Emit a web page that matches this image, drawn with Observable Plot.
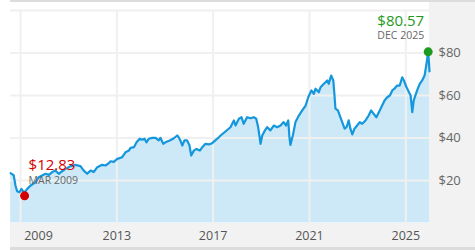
<!DOCTYPE html>
<html>
<head>
<meta charset="utf-8">
<script src="https://cdn.jsdelivr.net/npm/d3@7"></script>
<script src="https://cdn.jsdelivr.net/npm/@observablehq/plot@0.6"></script>
<style>
  html, body { margin: 0; padding: 0; background: #fff; }
  #wrap { position: relative; width: 475px; height: 250px; overflow: hidden; font-family: "Open Sans", sans-serif; }
  .bg { position: absolute; }
  #wrap svg { position: absolute; left: 0; top: 0; background: transparent; }
</style>
</head>
<body>
<div id="wrap">
  <div class="bg" style="left:10px;top:0;width:465px;height:2px;background:#dcdcdc"></div>
  <div class="bg" style="left:429px;top:2px;width:46px;height:221px;background:#f2f2f2"></div>
  <div class="bg" style="left:10px;top:222.6px;width:465px;height:25px;background:#f2f2f2"></div>
  <div class="bg" style="left:10px;top:247px;width:465px;height:3px;background:#dcdcdc"></div>
</div>
<script>
// Decimal-year positions and prices
const years = [
  2008.59, 2008.72, 2008.79, 2008.86, 2008.96, 2009.04, 2009.14, 2009.28, 2009.42, 2009.62,
  2009.76, 2009.90, 2010.04, 2010.18, 2010.32, 2010.45, 2010.59, 2010.73, 2010.87, 2011.08,
  2011.28, 2011.49, 2011.63, 2011.77, 2011.91, 2012.04, 2012.19, 2012.39, 2012.53, 2012.67,
  2012.74, 2012.87, 2013.02, 2013.22, 2013.36, 2013.50, 2013.57, 2013.71, 2013.82, 2013.95,
  2014.05, 2014.15, 2014.23, 2014.33, 2014.47, 2014.61, 2014.74, 2014.81, 2014.93, 2015.02,
  2015.20, 2015.37, 2015.51, 2015.57, 2015.64, 2015.72, 2015.81, 2015.92, 2016.02, 2016.09,
  2016.20, 2016.31, 2016.45, 2016.55, 2016.68, 2016.82, 2016.96, 2017.10, 2017.24, 2017.31,
  2017.51, 2017.72, 2017.86, 2017.93, 2018.07, 2018.18, 2018.27, 2018.41, 2018.55, 2018.69,
  2018.79, 2018.87, 2018.97, 2019.04, 2019.15, 2019.25, 2019.38, 2019.52, 2019.66, 2019.80,
  2019.93, 2020.03, 2020.12, 2020.17, 2020.21, 2020.31, 2020.42, 2020.56, 2020.70, 2020.84,
  2020.95, 2021.08, 2021.18, 2021.25, 2021.39, 2021.46, 2021.53, 2021.60, 2021.74, 2021.80,
  2021.90, 2021.99, 2022.04, 2022.08, 2022.18, 2022.26, 2022.36, 2022.46, 2022.54, 2022.63,
  2022.70, 2022.78, 2022.87, 2022.98, 2023.09, 2023.19, 2023.33, 2023.46, 2023.56, 2023.67,
  2023.78, 2023.92, 2024.02, 2024.12, 2024.23, 2024.34, 2024.44, 2024.53, 2024.64, 2024.75,
  2024.85, 2024.92, 2025.03, 2025.13, 2025.20, 2025.27, 2025.33, 2025.47, 2025.58, 2025.68,
  2025.78, 2025.86, 2025.93, 2025.96, 2025.985
];
const prices = [
  23.5, 22.4, 17.7, 15.0, 14.5, 16.1, 14.2, 16.1, 17.7, 19.2,
  21.6, 22.4, 23.2, 22.7, 24.0, 24.7, 23.2, 24.4, 25.5, 26.8,
  27.4, 26.8, 24.7, 23.2, 24.7, 24.0, 26.3, 27.4, 27.1, 28.2,
  29.1, 28.8, 30.2, 31.0, 33.3, 34.1, 35.4, 35.7, 38.0, 39.7,
  39.2, 39.7, 38.0, 39.7, 40.1, 40.1, 38.9, 40.1, 37.3, 38.0,
  38.9, 39.9, 41.2, 40.4, 38.9, 36.5, 38.9, 38.9, 36.5, 31.8,
  34.1, 34.9, 34.1, 35.7, 37.3, 37.0, 37.6, 39.0, 40.4, 41.2,
  43.1, 45.1, 48.3, 45.9, 49.1, 49.8, 46.7, 49.8, 49.3, 49.8,
  49.1, 45.1, 37.3, 41.2, 43.6, 45.1, 43.6, 45.9, 45.1, 45.9,
  47.5, 45.9, 48.3, 40.4, 36.8, 41.2, 47.5, 50.6, 53.0, 55.3,
  59.2, 62.4, 60.8, 63.2, 61.6, 63.9, 64.7, 65.5, 67.1, 65.5,
  69.4, 67.1, 60.0, 53.8, 53.0, 50.6, 47.5, 44.4, 45.1, 48.3,
  44.4, 41.7, 44.4, 45.9, 47.5, 46.7, 48.3, 50.6, 53.0, 51.4,
  49.8, 53.0, 55.3, 57.7, 59.2, 60.0, 62.4, 63.2, 64.7, 64.7,
  68.6, 67.1, 63.9, 61.6, 60.0, 52.2, 57.7, 62.4, 65.5, 67.1,
  69.4, 74.9, 80.57, 75.7, 71.4
];
const xDomain = [2008.585, 2025.985];
const tickYears = [2009, 2013, 2017, 2021, 2025];
const yTickValues = [20, 40, 60, 80];
const yGridValues = [20, 40, 60, 80, 100];
const lowPoint = {year: 2009.17, price: 12.83, label: "$12.83", date: "MAR 2009"};
const highPoint = {year: 2025.93, price: 80.57, label: "$80.57", date: "DEC 2025"};

function toDate(y) {
  const yr = Math.floor(y);
  const s = Date.UTC(yr, 0, 1), e = Date.UTC(yr + 1, 0, 1);
  return new Date(s + (y - yr) * (e - s));
}
const data = years.map((y, i) => ({date: toDate(y), price: prices[i]}));
const tickDates = tickYears.map(y => new Date(Date.UTC(y, 0, 1)));
const low = [{date: toDate(lowPoint.year), price: lowPoint.price}];
const high = [{date: toDate(highPoint.year), price: highPoint.price}];

const chart = Plot.plot({
  width: 475,
  height: 250,
  marginLeft: 10,
  marginRight: 46,
  marginTop: 10,
  marginBottom: 27.4,
  style: {fontFamily: "'Open Sans', sans-serif", background: "transparent", overflow: "visible"},
  x: {type: "utc", domain: xDomain.map(toDate), axis: null, label: null},
  y: {domain: [0, 100], axis: null, label: null},
  marks: [
    Plot.areaY(data, {x: "date", y: "price", fill: "#cde9f7"}),
    Plot.gridY(yGridValues, {stroke: "#f0f0f0", strokeOpacity: 1, strokeWidth: 2}),
    Plot.gridX(tickDates, {stroke: "#f0f0f0", strokeOpacity: 1, strokeWidth: 2}),
    Plot.lineY(data, {x: "date", y: "price", stroke: "#1497dc", strokeWidth: 2.2}),
    Plot.axisY(yTickValues, {anchor: "right", label: null, tickSize: 0, tickPadding: 9, fontSize: 13, fill: "#666", tickFormat: d => "$" + d}),
    Plot.axisX(tickDates.slice(0, 1), {anchor: "bottom", label: null, tickSize: 0, tickPadding: 8, fontSize: 12.5, fill: "#555", dx: 18, tickFormat: d => String(d.getUTCFullYear())}),
    Plot.axisX(tickDates.slice(1), {anchor: "bottom", label: null, tickSize: 0, tickPadding: 8, fontSize: 12.5, fill: "#555", tickFormat: d => String(d.getUTCFullYear())}),
    Plot.dot(low, {x: "date", y: "price", r: 4.5, fill: "#d40000"}),
    Plot.dot(high, {x: "date", y: "price", r: 4.5, fill: "#1e9a1e"}),
    Plot.text(low, {x: "date", y: "price", text: () => lowPoint.label, fill: "#d40000", fontSize: 15, textAnchor: "start", dx: 4, dy: -31}),
    Plot.text(low, {x: "date", y: "price", text: () => lowPoint.date, fill: "#666", fontSize: 10.5, textAnchor: "start", dx: 4, dy: -15}),
    Plot.text(high, {x: "date", y: "price", text: () => highPoint.label, fill: "#1e9a1e", fontSize: 15, textAnchor: "end", dx: -4, dy: -31}),
    Plot.text(high, {x: "date", y: "price", text: () => highPoint.date, fill: "#666", fontSize: 10.5, textAnchor: "end", dx: -4, dy: -16})
  ]
});
document.getElementById("wrap").appendChild(chart);
</script>
</body>
</html>
